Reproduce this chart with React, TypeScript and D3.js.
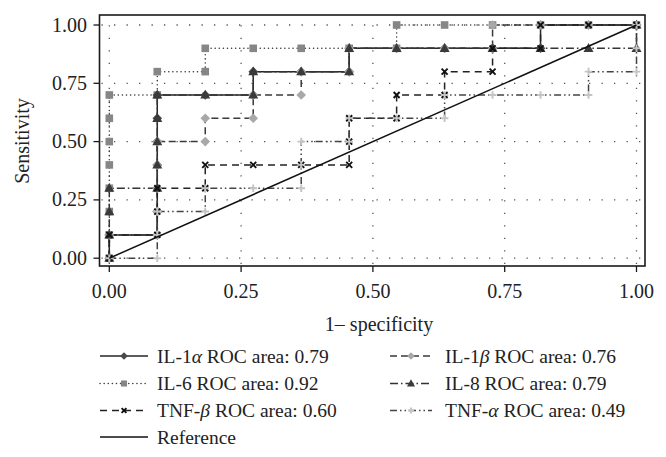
import React from "react";
import * as d3 from "d3";

// ---------- data ----------
const il1aX = [0, 0, 0.091, 0.091, 0.091, 0.091, 0.091, 0.091, 0.091, 0.182, 0.273, 0.273, 0.364, 0.455, 0.455, 0.545, 0.636, 0.727, 0.818, 0.818, 0.909, 1];
const il1aY = [0, 0.1, 0.1, 0.2, 0.3, 0.4, 0.5, 0.6, 0.7, 0.7, 0.7, 0.8, 0.8, 0.8, 0.9, 0.9, 0.9, 0.9, 0.9, 1, 1, 1];

const il1bX = [0, 0, 0.091, 0.091, 0.091, 0.091, 0.091, 0.182, 0.182, 0.273, 0.273, 0.364, 0.364, 0.455, 0.455, 0.545, 0.636, 0.727, 0.727, 0.818, 0.909, 1];
const il1bY = [0, 0.1, 0.1, 0.2, 0.3, 0.4, 0.5, 0.5, 0.6, 0.6, 0.7, 0.7, 0.8, 0.8, 0.9, 0.9, 0.9, 0.9, 1, 1, 1, 1];

const il6X = [0, 0, 0, 0, 0, 0, 0, 0, 0.091, 0.091, 0.182, 0.182, 0.273, 0.364, 0.455, 0.545, 0.545, 0.636, 0.727, 0.818, 0.909, 1];
const il6Y = [0, 0.1, 0.2, 0.3, 0.4, 0.5, 0.6, 0.7, 0.7, 0.8, 0.8, 0.9, 0.9, 0.9, 0.9, 0.9, 1, 1, 1, 1, 1, 1];

const il8X = [0, 0, 0, 0, 0.091, 0.091, 0.091, 0.091, 0.091, 0.182, 0.273, 0.273, 0.364, 0.455, 0.455, 0.545, 0.636, 0.727, 0.818, 0.909, 1, 1];
const il8Y = [0, 0.1, 0.2, 0.3, 0.3, 0.4, 0.5, 0.6, 0.7, 0.7, 0.7, 0.8, 0.8, 0.8, 0.9, 0.9, 0.9, 0.9, 0.9, 0.9, 0.9, 1];

const tnfbX = [0, 0, 0.091, 0.091, 0.091, 0.182, 0.182, 0.273, 0.364, 0.455, 0.455, 0.455, 0.545, 0.545, 0.636, 0.636, 0.727, 0.727, 0.818, 0.818, 0.909, 1];
const tnfbY = [0, 0.1, 0.1, 0.2, 0.3, 0.3, 0.4, 0.4, 0.4, 0.4, 0.5, 0.6, 0.6, 0.7, 0.7, 0.8, 0.8, 0.9, 0.9, 1, 1, 1];

const tnfaX = [0, 0.091, 0.091, 0.091, 0.182, 0.182, 0.273, 0.364, 0.364, 0.364, 0.455, 0.455, 0.545, 0.636, 0.636, 0.727, 0.818, 0.909, 0.909, 1, 1, 1];
const tnfaY = [0, 0, 0.1, 0.2, 0.2, 0.3, 0.3, 0.3, 0.4, 0.5, 0.5, 0.6, 0.6, 0.6, 0.7, 0.7, 0.7, 0.7, 0.8, 0.8, 0.9, 1];

const refX = [0, 1];
const refY = [0, 1];

const tickValues = [0, 0.25, 0.5, 0.75, 1];
const tickLabels = ["0.00", "0.25", "0.50", "0.75", "1.00"];

const seriesNames = ["IL-1α", "IL-1β", "IL-6", "IL-8", "TNF-β", "TNF-α"];
const seriesAreas = ["0.79", "0.76", "0.92", "0.79", "0.60", "0.49"];

// ---------- styles ----------
type Marker = "diamond" | "square" | "triangle" | "times" | "plus" | "none";
interface Style {
  marker: Marker;
  fill: string;
  dash: string | null;
  stroke: string;
  cap: string;
}
const styles: Style[] = [
  { marker: "diamond", fill: "#4a4a4a", dash: null, stroke: "#262626", cap: "butt" },
  { marker: "diamond", fill: "#a8a8a8", dash: "7 4", stroke: "#3a3a3a", cap: "butt" },
  { marker: "square", fill: "#868686", dash: "0.1 4", stroke: "#3a3a3a", cap: "round" },
  { marker: "triangle", fill: "#3a3a3a", dash: "8 3 1.5 3", stroke: "#333", cap: "butt" },
  { marker: "times", fill: "#111", dash: "7 5", stroke: "#222", cap: "butt" },
  { marker: "plus", fill: "#c4c4c4", dash: "7 3 1.5 3 1.5 3", stroke: "#444", cap: "butt" },
];
const dataXs = [il1aX, il1bX, il6X, il8X, tnfbX, tnfaX];
const dataYs = [il1aY, il1bY, il6Y, il8Y, tnfbY, tnfaY];
// order in which the series are painted (IL-6 first so the light diamonds sit above its squares)
const drawOrder = [2, 0, 1, 3, 4, 5];

const W = 666;
const H = 457;
const FRAME = { l: 99.5, r: 645, t: 15, b: 266 };
const x = d3.scaleLinear().domain([0, 1]).range([109.3, 636.5]);
const y = d3.scaleLinear().domain([0, 1]).range([258.2, 25]);
const FONT = "'Liberation Serif', 'Times New Roman', serif";

function markerPath(m: Marker, s: number): string {
  switch (m) {
    case "diamond":
      return `M0,${-4.8 * s}L${4.8 * s},0L0,${4.8 * s}L${-4.8 * s},0Z`;
    case "square":
      return `M${-3.8 * s},${-3.8 * s}h${7.6 * s}v${7.6 * s}h${-7.6 * s}Z`;
    case "triangle":
      return `M0,${-5.2 * s}L${5 * s},${3.6 * s}L${-5 * s},${3.6 * s}Z`;
    case "times":
      return `M${-3 * s},${-3 * s}L${3 * s},${3 * s}M${3 * s},${-3 * s}L${-3 * s},${3 * s}`;
    case "plus":
      return `M${-3.8 * s},0L${3.8 * s},0M0,${-3.8 * s}L0,${3.8 * s}`;
    default:
      return "";
  }
}

function MarkerShape({ st, cx, cy, s }: { st: Style; cx: number; cy: number; s: number }) {
  const stroked = st.marker === "times" || st.marker === "plus";
  return (
    <path
      d={markerPath(st.marker, s)}
      transform={`translate(${cx},${cy})`}
      fill={stroked ? "none" : st.fill}
      stroke={stroked ? st.fill : "none"}
      strokeWidth={stroked ? 1.9 : 0}
    />
  );
}

function Label({ name, area }: { name: string; area: string }) {
  const base = name.slice(0, -1);
  const greek = name.slice(-1);
  const isGreek = /[αβ]/.test(greek);
  return (
    <>
      {isGreek ? base : name}
      {isGreek && <tspan fontStyle="italic">{greek}</tspan>}
      {` ROC area: ${area}`}
    </>
  );
}

export default function App() {
  const lineGen = d3.line();
  const paths = dataXs.map((xs, i) => {
    const pts: [number, number][] = xs.map((v, j) => [x(v), y(dataYs[i][j])]);
    return lineGen(pts) as string;
  });
  const refPath = lineGen(refX.map((v, j) => [x(v), y(refY[j])]) as [number, number][]) as string;

  const legendRows = [356, 383.5, 410.5, 437];
  const legendCols = [
    { x0: 100, x1: 148, tx: 157 },
    { x0: 390, x1: 432, tx: 445 },
  ];

  return (
    <svg width={W} height={H} style={{ position: "absolute", left: 0, top: 0, background: "#fff" }} fontFamily={FONT}>
      <rect x={0} y={0} width={W} height={H} fill="#fff" />
      {/* grid */}
      <g stroke="#555" strokeWidth={1.3} strokeDasharray="1.3 11.2">
        {tickValues.map((t) => (
          <line key={"gx" + t} x1={x(t)} x2={x(t)} y1={FRAME.b - 2} y2={FRAME.t + 2} />
        ))}
        {tickValues.map((t) => (
          <line key={"gy" + t} x1={FRAME.l + 2} x2={FRAME.r - 2} y1={y(t)} y2={y(t)} />
        ))}
      </g>
      {/* series lines */}
      {drawOrder.map((i) => (
        <path
          key={"l" + i}
          d={paths[i]}
          fill="none"
          stroke={styles[i].stroke}
          strokeWidth={1.5}
          strokeDasharray={styles[i].dash ?? undefined}
          strokeLinecap={styles[i].cap as any}
        />
      ))}
      {/* markers */}
      {drawOrder.map((i) =>
        dataXs[i].map((v, j) => (
          <MarkerShape key={`m${i}-${j}`} st={styles[i]} cx={x(v)} cy={y(dataYs[i][j])} s={1} />
        ))
      )}
      {/* reference */}
      <path d={refPath} fill="none" stroke="#111" strokeWidth={1.5} />
      {/* frame */}
      <rect
        x={FRAME.l}
        y={FRAME.t}
        width={FRAME.r - FRAME.l}
        height={FRAME.b - FRAME.t}
        fill="none"
        stroke="#1a1a1a"
        strokeWidth={1.6}
      />
      {/* ticks */}
      {tickValues.map((t, i) => (
        <g key={"tx" + t}>
          <line x1={x(t)} x2={x(t)} y1={FRAME.b} y2={FRAME.b + 6} stroke="#1a1a1a" strokeWidth={1.3} />
          <text x={x(t)} y={298} textAnchor="middle" fontSize={20} fill="#222">
            {tickLabels[i]}
          </text>
        </g>
      ))}
      {tickValues.map((t, i) => (
        <g key={"ty" + t}>
          <line x1={FRAME.l - 6} x2={FRAME.l} y1={y(t)} y2={y(t)} stroke="#1a1a1a" strokeWidth={1.3} />
          <text x={87} y={y(t) + 6.5} textAnchor="end" fontSize={20} fill="#222">
            {tickLabels[i]}
          </text>
        </g>
      ))}
      {/* axis titles */}
      <text x={379} y={331} textAnchor="middle" fontSize={20} fill="#222">
        1– specificity
      </text>
      <text transform={`translate(29,141) rotate(-90)`} textAnchor="middle" fontSize={20} fill="#222">
        Sensitivity
      </text>
      {/* legend */}
      {seriesNames.map((n, i) => {
        const col = legendCols[i % 2];
        const ry = legendRows[Math.floor(i / 2)];
        const st = styles[i];
        return (
          <g key={"lg" + i}>
            <line
              x1={col.x0}
              x2={col.x1}
              y1={ry}
              y2={ry}
              stroke={st.stroke}
              strokeWidth={1.5}
              strokeDasharray={st.dash ?? undefined}
              strokeLinecap={st.cap as any}
            />
            <MarkerShape st={st} cx={(col.x0 + col.x1) / 2} cy={ry} s={0.8} />
            <text x={col.tx} y={ry + 6.5} fontSize={19.5} fill="#222">
              <Label name={n} area={seriesAreas[i]} />
            </text>
          </g>
        );
      })}
      <g>
        <line x1={legendCols[0].x0} x2={legendCols[0].x1} y1={legendRows[3]} y2={legendRows[3]} stroke="#111" strokeWidth={1.5} />
        <text x={legendCols[0].tx} y={legendRows[3] + 6.5} fontSize={19.5} fill="#222">
          Reference
        </text>
      </g>
    </svg>
  );
}
